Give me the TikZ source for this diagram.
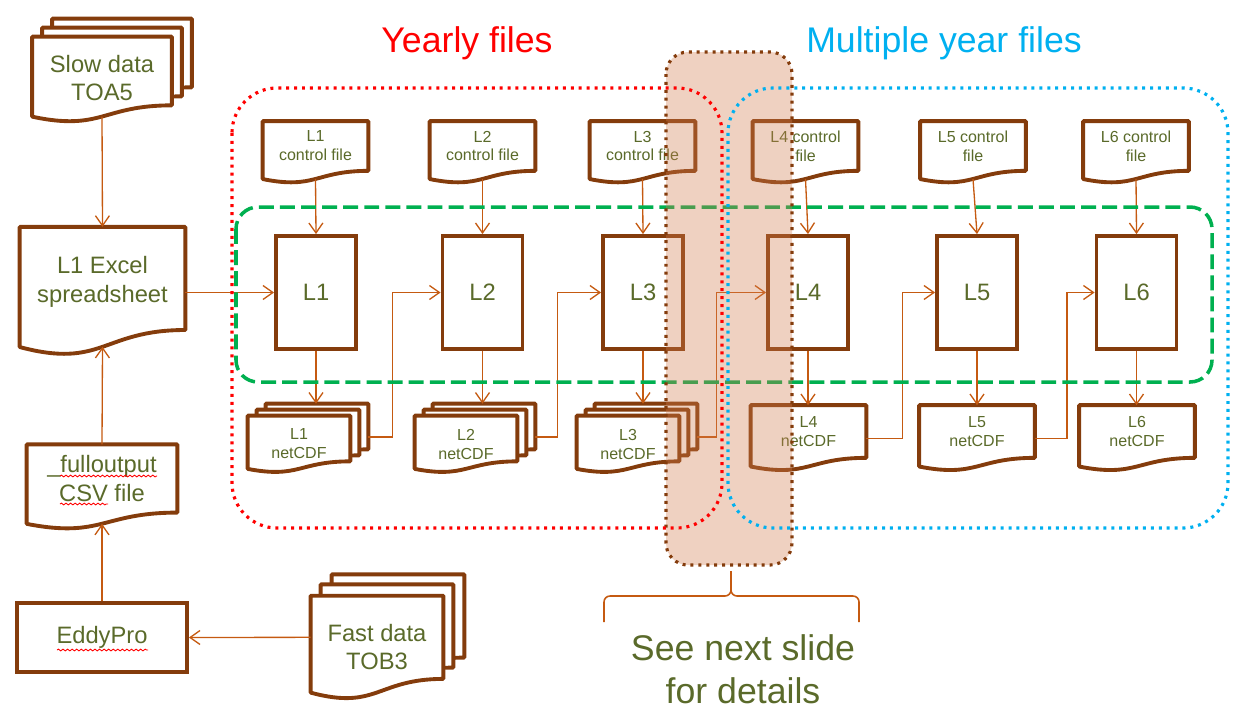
\documentclass[tikz,border=0pt]{standalone}
\usepackage{fontspec}
\setmainfont{Liberation Sans}
\usetikzlibrary{arrows.meta,calc,decorations.pathmorphing}

\definecolor{docbrown}{HTML}{843C0C}
\definecolor{linkorange}{HTML}{C55A11}
\definecolor{olivetext}{HTML}{5A6A2A}
\definecolor{yearred}{HTML}{FF0000}
\definecolor{multiblue}{HTML}{00B0F0}
\definecolor{groupgreen}{HTML}{00B050}
\definecolor{shadefill}{RGB}{209,124,78}

\pgfdeclarelayer{background}
\pgfdeclarelayer{foreground}
\pgfsetlayers{background,main,foreground}

\newcommand\bigtext{\fontsize{13.5}{16.4}\selectfont}
\newcommand\smalltext{\fontsize{9.1}{10.8}\selectfont}
\newcommand\titletext{\fontsize{20.3}{24.4}\selectfont}

\tikzset{
  doc/.style={inner sep=0pt, align=center, text=olivetext},
  slowdoc/.style={doc, minimum width=2.78cm, minimum height=1.36cm},
  fastdoc/.style={doc, minimum width=2.64cm, minimum height=1.65cm},
  ctrldoc/.style={doc, font=\smalltext, minimum width=2.1cm, minimum height=0.98cm},
  ncstack/.style={doc, minimum width=2.04cm, minimum height=0.9cm},
  ncdoc/.style={doc, font=\smalltext, minimum width=2.3cm, minimum height=1.04cm},
  proc/.style={draw=docbrown, line width=2.2pt, inner sep=0pt, minimum width=1.6cm,
    minimum height=2.26cm, text=olivetext, font=\bigtext},
  docline/.style={draw=docbrown, line width=2.2pt, fill=white, line join=round},
  link/.style={draw=linkorange, line width=0.75pt, -{Straight Barb[length=0.2cm,width=0.28cm]}},
  spell/.style={draw=red, line width=0.5pt, decorate, decoration={snake, amplitude=0.5pt, segment length=2.6pt}},
  dotline/.style={line width=1.8pt, dash pattern=on 1.7pt off 2.8pt},
}

\newcommand\docshape[1]{%
  \draw[docline] (#1.north west) -- (#1.north east) -- (#1.south east)
    .. controls (#1.south) and ($(#1.north)!1.380!(#1.south)$) .. ($(#1.north west)!1.165!(#1.south west)$) -- cycle;
  \coordinate (#1-b) at ($(#1.north)!1.163!(#1.south)$);}

\begin{document}
\begin{tikzpicture}[x=0.02cm, y=-0.02cm]
\useasboundingbox (0,0) rectangle (1243,711);

% left column
\node[slowdoc] (slow3) at (122,53) {};
\node[slowdoc] (slow2) at (112,62) {};
\node[slowdoc] (slow) at (102,71) {};
\node[doc, font=\bigtext] (slowtxt) at (102,78) {Slow data\\TOA5};
\node[doc, minimum width=3.3cm, minimum height=2.05cm] (excel) at (102.5,278.4) {};
\node[doc, font=\bigtext] (exceltxt) at (102.5,282) {L1 Excel\\spreadsheet};
\node[doc, font=\bigtext, minimum width=3cm, minimum height=1.35cm] (full) at (102,478.5) {\_fulloutput\\CSV file};
\node[draw=docbrown, line width=2.2pt, minimum width=3.4cm, minimum height=1.38cm, text=olivetext, font=\bigtext] (eddy) at (102,637.5) {EddyPro};
\node[fastdoc] (fast3) at (398,616) {};
\node[fastdoc] (fast2) at (387,626) {};
\node[fastdoc] (fast) at (377,637.3) {};
\node[doc, font=\bigtext] (fasttxt) at (377,647) {Fast data\\TOB3};

% control files
\node[ctrldoc] (c1) at (315.5,146) {L1\\control file};
\node[ctrldoc] (c2) at (482.5,146) {L2\\control file};
\node[ctrldoc] (c3) at (642.5,146) {L3\\control file};
\node[ctrldoc] (c4) at (805.5,146) {L4 control\\file};
\node[ctrldoc] (c5) at (973,146) {L5 control\\file};
\node[ctrldoc] (c6) at (1136,146) {L6 control\\file};

% levels
\node[proc] (p1) at (316,292.5) {L1};
\node[proc] (p2) at (482.5,292.5) {L2};
\node[proc] (p3) at (643,292.5) {L3};
\node[proc] (p4) at (808,292.5) {L4};
\node[proc] (p5) at (977,292.5) {L5};
\node[proc] (p6) at (1136.5,292.5) {L6};

% netCDF outputs
\node[ncstack] (n1c) at (317,426.5) {};
\node[ncstack] (n1b) at (308,432.5) {};
\node[ncstack] (n1) at (299,438.5) {};
\node[doc, font=\smalltext] (n1txt) at (299,444) {L1\\netCDF};
\node[ncstack] (n2c) at (484,426.5) {};
\node[ncstack] (n2b) at (475,432.5) {};
\node[ncstack] (n2) at (466,438.5) {};
\node[doc, font=\smalltext] (n2txt) at (466,444) {L2\\netCDF};
\node[ncstack] (n3c) at (646,426.5) {};
\node[ncstack] (n3b) at (637,432.5) {};
\node[ncstack] (n3) at (628,438.5) {};
\node[doc, font=\smalltext] (n3txt) at (628,444) {L3\\netCDF};
\node[ncdoc] (n4) at (808.5,431.5) {L4\\netCDF};
\node[ncdoc] (n5) at (977,431.5) {L5\\netCDF};
\node[ncdoc] (n6) at (1137,431.5) {L6\\netCDF};

\begin{pgfonlayer}{background}
  \docshape{slow3} \docshape{slow2} \docshape{slow}
  \docshape{excel} \docshape{full}
  \docshape{fast3} \docshape{fast2} \docshape{fast}
  \docshape{c1} \docshape{c2} \docshape{c3} \docshape{c4} \docshape{c5} \docshape{c6}
  \docshape{n1c} \docshape{n1b} \docshape{n1}
  \docshape{n2c} \docshape{n2b} \docshape{n2}
  \docshape{n3c} \docshape{n3b} \docshape{n3}
  \docshape{n4} \docshape{n5} \docshape{n6}
\end{pgfonlayer}

\draw[link] (slow-b) -- (excel.north);
\draw[link] (full.north) -- (excel-b);
\draw[link] (eddy.north) -- (full-b);
\draw[link] (fast.west) -- (eddy.east);
\draw[link] (p1.west -| excel.east) -- (p1.west);

\draw[link] (c1-b) -- (p1.north);
\draw[link] (c2-b) -- (p2.north);
\draw[link] (c3-b) -- (p3.north);
\draw[link] (c4-b) -- (p4.north);
\draw[link] (c5-b) -- (p5.north);
\draw[link] (c6-b) -- (p6.north);

\draw[link] (p1.south) -- (p1.south |- n1c.north);
\draw[link] (p2.south) -- (p2.south |- n2c.north);
\draw[link] (p3.south) -- (p3.south |- n3c.north);
\draw[link] (p4.south) -- (n4.north -| p4.south);
\draw[link] (p5.south) -- (n5.north -| p5.south);
\draw[link] (p6.south) -- (n6.north -| p6.south);

\draw[link] ([yshift=-0.21cm]n1c.east) -- ++(24,0) |- (p2.west);
\draw[link] ([yshift=-0.21cm]n2c.east) -- ++(22,0) |- (p3.west);
\draw[link] ([yshift=-0.21cm]n3c.east) -- ++(19,0) |- (p4.west);
\draw[link] ([yshift=-0.14cm]n4.east) -- ++(36,0) |- (p5.west);
\draw[link] ([yshift=-0.14cm]n5.east) -- ++(32,0) |- (p6.west);

% spell check marks
\draw[spell] (60,476) -- (157,476);
\draw[spell] (60,504) -- (108,504);
\draw[spell] (57,650) -- (148,650);

% groups
\draw[groupgreen, line width=2pt, dash pattern=on 8.5pt off 3.5pt, rounded corners=0.44cm] (236,207) rectangle (1212,382);

\begin{pgfonlayer}{foreground}
  \fill[shadefill, fill opacity=0.35, rounded corners=0.44cm] (666,52) rectangle (792,565);
  \draw[docbrown, dotline, rounded corners=0.44cm] (666,52) rectangle (792,565);
  \draw[yearred, dotline, rounded corners=0.9cm] (232,88) rectangle (722,528);
  \draw[multiblue, dotline, rounded corners=0.9cm] (728,88) rectangle (1228,528);
\end{pgfonlayer}

\node[text=yearred, font=\titletext] (yearly) at (467,43) {Yearly files};
\node[text=multiblue, font=\titletext] (multi) at (944,43) {Multiple year files};

\draw[linkorange, line width=0.9pt, rounded corners=0.12cm] (604,622) -- (604,596) -- (731,596) -- (731,571);
\draw[linkorange, line width=0.9pt, rounded corners=0.12cm] (731,571) -- (731,596) -- (859,596) -- (859,622);
\node[text=olivetext, font=\titletext, align=center] (seenext) at (743,669) {See next slide\\for details};
\end{tikzpicture}
\end{document}
